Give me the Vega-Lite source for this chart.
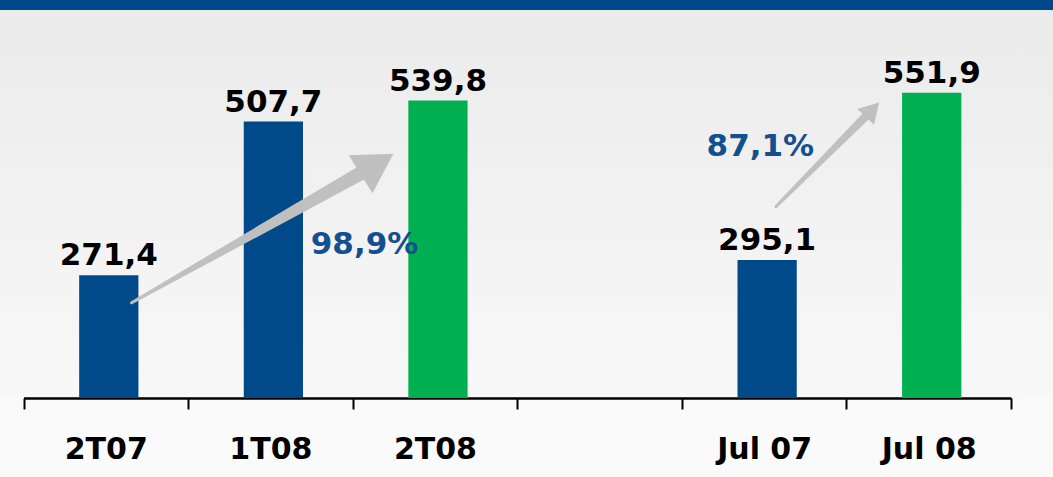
{
  "$schema": "https://vega.github.io/schema/vega-lite/v6.json",
  "background": "#fafafa",
  "padding": {"top": 0, "left": 0, "right": 0, "bottom": 16},
  "autosize": {"type": "pad"},
  "spacing": 0,
  "config": {
    "view": {"stroke": null},
    "font": "DejaVu Sans",
    "locale": {"number": {"decimal": ",", "thousands": ".", "grouping": [3], "currency": ["", " €"]}}
  },
  "datasets": {
    "barras": [
      {"periodo": "2T07", "valor": 271.4, "serie": "anterior"},
      {"periodo": "1T08", "valor": 507.7, "serie": "anterior"},
      {"periodo": "2T08", "valor": 539.8, "serie": "actual"},
      {"periodo": "Jul 07", "valor": 295.1, "serie": "anterior"},
      {"periodo": "Jul 08", "valor": 551.9, "serie": "actual"}
    ],
    "flechas": [
      {"flecha": "A", "extremo": "cola", "x": 0.657, "y": 229.4},
      {"flecha": "A", "extremo": "cabeza", "x": 2.148, "y": 442.4},
      {"flecha": "B", "extremo": "cola", "x": 4.572, "y": 376.9},
      {"flecha": "B", "extremo": "cabeza", "x": 5.158, "y": 525.9}
    ],
    "crecimiento": [
      {"tasa": 0.989, "x": 2.072, "y": 318},
      {"tasa": 0.871, "x": 4.477, "y": 467.8}
    ]
  },
  "vconcat": [
    {
      "width": 1053,
      "height": 10,
      "data": {"values": [{}]},
      "mark": {"type": "rect", "color": "#00488a"},
      "encoding": {}
    },
    {
      "width": 1053,
      "height": 388,
      "view": {
        "fill": {
          "gradient": "linear", "x1": 0, "y1": 0, "x2": 0, "y2": 1,
          "stops": [{"offset": 0, "color": "#ebebeb"}, {"offset": 1, "color": "#f8f8f8"}]
        }
      },
      "resolve": {"scale": {"x": "independent", "size": "independent"}, "axis": {"x": "independent"}},
      "layer": [
        {
          "data": {"name": "barras"},
          "encoding": {
            "x": {
              "field": "periodo", "type": "nominal", "sort": null,
              "scale": {"domain": ["2T07", "1T08", "2T08", " ", "Jul 07", "Jul 08"], "range": [23.5, 1011], "paddingInner": 0, "paddingOuter": 0},
              "axis": {
                "title": null, "labelAngle": 0, "labelFont": "DejaVu Sans", "labelFontSize": 30,
                "labelFontWeight": "bold", "labelColor": "#000000", "labelPadding": 25,
                "domainColor": "#000000", "domainWidth": 2.5, "tickColor": "#000000",
                "tickWidth": 2, "tickSize": 11, "tickBand": "extent", "grid": false
              }
            },
            "y": {
              "field": "valor", "type": "quantitative",
              "scale": {"domain": [83, 679], "zero": false, "nice": false, "clamp": true},
              "axis": null
            }
          },
          "layer": [
            {
              "mark": {"type": "bar", "width": {"band": 0.36}, "xOffset": 3},
              "encoding": {
                "color": {"field": "serie", "type": "nominal", "scale": {"domain": ["anterior", "actual"], "range": ["#004a8a", "#00b050"]}, "legend": null}
              }
            },
            {
              "mark": {"type": "text", "font": "DejaVu Sans", "fontSize": 31, "fontWeight": "bold", "color": "#000000", "baseline": "alphabetic", "dy": -10, "dx": 3},
              "encoding": {"text": {"field": "valor", "type": "quantitative", "format": ",.1f"}}
            }
          ]
        },
        {
          "data": {"name": "flechas"},
          "transform": [{"filter": "datum.flecha === 'A'"}],
          "mark": {"type": "trail", "color": "#c0c0c0"},
          "encoding": {
            "x": {"field": "x", "type": "quantitative", "scale": {"domain": [0, 6], "range": [23.5, 1011], "nice": false, "zero": false}, "axis": null},
            "y": {"field": "y", "type": "quantitative", "scale": {"domain": [83, 679], "zero": false, "nice": false, "clamp": true}, "axis": null},
            "size": {"field": "extremo", "type": "ordinal", "scale": {"domain": ["cola", "cabeza"], "range": [3, 15]}, "legend": null}
          }
        },
        {
          "data": {"name": "flechas"},
          "transform": [{"filter": "datum.flecha === 'B'"}],
          "mark": {"type": "trail", "color": "#c0c0c0"},
          "encoding": {
            "x": {"field": "x", "type": "quantitative", "scale": {"domain": [0, 6], "range": [23.5, 1011], "nice": false, "zero": false}, "axis": null},
            "y": {"field": "y", "type": "quantitative", "scale": {"domain": [83, 679], "zero": false, "nice": false, "clamp": true}, "axis": null},
            "size": {"field": "extremo", "type": "ordinal", "scale": {"domain": ["cola", "cabeza"], "range": [3, 9]}, "legend": null}
          }
        },
        {
          "data": {"name": "flechas"},
          "transform": [{"filter": "datum.flecha === 'A' && datum.extremo === 'cabeza'"}],
          "mark": {"type": "point", "shape": "triangle-up", "filled": true, "color": "#c0c0c0", "opacity": 1, "size": 2000, "angle": 58},
          "encoding": {
            "x": {"field": "x", "type": "quantitative", "scale": {"domain": [0, 6], "range": [23.5, 1011], "nice": false, "zero": false}, "axis": null},
            "y": {"field": "y", "type": "quantitative", "scale": {"domain": [83, 679], "zero": false, "nice": false, "clamp": true}, "axis": null}
          }
        },
        {
          "data": {"name": "flechas"},
          "transform": [{"filter": "datum.flecha === 'B' && datum.extremo === 'cabeza'"}],
          "mark": {"type": "point", "shape": "triangle-up", "filled": true, "color": "#c0c0c0", "opacity": 1, "size": 520, "angle": 43},
          "encoding": {
            "x": {"field": "x", "type": "quantitative", "scale": {"domain": [0, 6], "range": [23.5, 1011], "nice": false, "zero": false}, "axis": null},
            "y": {"field": "y", "type": "quantitative", "scale": {"domain": [83, 679], "zero": false, "nice": false, "clamp": true}, "axis": null}
          }
        },
        {
          "data": {"name": "crecimiento"},
          "mark": {"type": "text", "font": "DejaVu Sans", "fontSize": 31, "fontWeight": "bold", "color": "#14508f", "baseline": "middle", "align": "center"},
          "encoding": {
            "x": {"field": "x", "type": "quantitative", "scale": {"domain": [0, 6], "range": [23.5, 1011], "nice": false, "zero": false}, "axis": null},
            "y": {"field": "y", "type": "quantitative", "scale": {"domain": [83, 679], "zero": false, "nice": false, "clamp": true}, "axis": null},
            "text": {"field": "tasa", "type": "quantitative", "format": ".1%"}
          }
        }
      ]
    }
  ]
}
